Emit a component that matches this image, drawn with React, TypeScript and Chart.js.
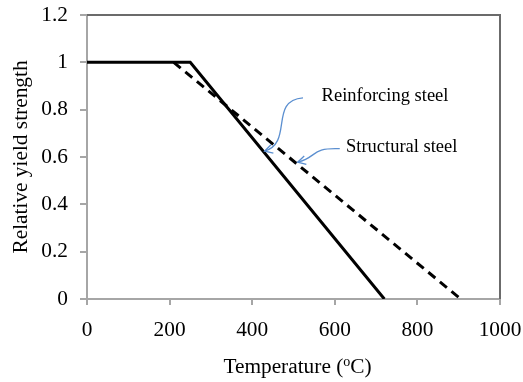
import React, { useEffect, useRef } from "react";
import { Chart, registerables } from "chart.js";

Chart.register(...registerables);

// ---- data ----
const reinforcingTemp = [0, 250, 720];
const reinforcingStrength = [1, 1, 0];
const structuralTemp = [210, 905];
const structuralStrength = [1, 0];

const xTickValues = [0, 200, 400, 600, 800, 1000];
const yTickValues = [0, 0.2, 0.4, 0.6, 0.8, 1, 1.2];

const xTitleMain = "Temperature (";
const xTitleSup = "o";
const xTitleEnd = "C)";
const yTitle = "Relative yield strength";

// annotation labels (data coords) and their arrow curves (data coords)
const labelTexts = ["Reinforcing steel", "Structural steel"];
const labelX = [568, 627];
const labelY = [0.859, 0.64];
// arrow: start, control1, control2, head
const arrowStartX = [523, 612];
const arrowStartY = [0.85, 0.635];
const arrowC1X = [440, 540];
const arrowC1Y = [0.84, 0.64];
const arrowC2X = [500, 560];
const arrowC2Y = [0.66, 0.6];
const arrowHeadX = [430, 510];
const arrowHeadY = [0.625, 0.578];

const FONT = "'Liberation Serif', 'Times New Roman', serif";
const BIG = 21.33;

const overlayPlugin = {
  id: "overlay",
  afterDraw(chart: any) {
    const { ctx, chartArea, scales } = chart;
    const xs = scales.x;
    const ys = scales.y;
    ctx.save();
    // top and right border
    ctx.strokeStyle = "#6b6b6b";
    ctx.lineWidth = 2;
    ctx.beginPath();
    ctx.moveTo(chartArea.left, chartArea.top);
    ctx.lineTo(chartArea.right, chartArea.top);
    ctx.lineTo(chartArea.right, chartArea.bottom);
    ctx.stroke();

    // annotation texts
    ctx.fillStyle = "#000";
    ctx.font = `18.5px ${FONT}`;
    ctx.textBaseline = "middle";
    ctx.textAlign = "left";
    for (let i = 0; i < labelTexts.length; i++) {
      ctx.fillText(labelTexts[i], xs.getPixelForValue(labelX[i]), ys.getPixelForValue(labelY[i]));
    }

    // arrows
    ctx.strokeStyle = "#5b8fd0";
    ctx.lineWidth = 1.3;
    for (let i = 0; i < arrowStartX.length; i++) {
      const sx = xs.getPixelForValue(arrowStartX[i]);
      const sy = ys.getPixelForValue(arrowStartY[i]);
      const c1x = xs.getPixelForValue(arrowC1X[i]);
      const c1y = ys.getPixelForValue(arrowC1Y[i]);
      const c2x = xs.getPixelForValue(arrowC2X[i]);
      const c2y = ys.getPixelForValue(arrowC2Y[i]);
      const hx = xs.getPixelForValue(arrowHeadX[i]);
      const hy = ys.getPixelForValue(arrowHeadY[i]);
      ctx.beginPath();
      ctx.moveTo(sx, sy);
      ctx.bezierCurveTo(c1x, c1y, c2x, c2y, hx, hy);
      ctx.stroke();
      const ang = Math.atan2(hy - c2y, hx - c2x);
      const len = 9;
      const spread = 0.5;
      ctx.beginPath();
      ctx.moveTo(hx - len * Math.cos(ang - spread), hy - len * Math.sin(ang - spread));
      ctx.lineTo(hx, hy);
      ctx.lineTo(hx - len * Math.cos(ang + spread), hy - len * Math.sin(ang + spread));
      ctx.stroke();
    }

    // x title with superscript
    ctx.fillStyle = "#000";
    ctx.textBaseline = "alphabetic";
    ctx.textAlign = "left";
    const mainFont = `${BIG}px ${FONT}`;
    const supFont = `14px ${FONT}`;
    ctx.font = mainFont;
    const w1 = ctx.measureText(xTitleMain).width;
    const w3 = ctx.measureText(xTitleEnd).width;
    ctx.font = supFont;
    const w2 = ctx.measureText(xTitleSup).width;
    const total = w1 + w2 + w3;
    const cx = (chartArea.left + chartArea.right) / 2 + 4;
    const baseY = 373;
    const x0 = cx - total / 2;
    ctx.font = mainFont;
    ctx.fillText(xTitleMain, x0, baseY);
    ctx.font = supFont;
    ctx.fillText(xTitleSup, x0 + w1, baseY - 7);
    ctx.font = mainFont;
    ctx.fillText(xTitleEnd, x0 + w1 + w2, baseY);
    ctx.restore();
  },
};

export default function App() {
  const ref = useRef<HTMLCanvasElement | null>(null);
  useEffect(() => {
    if (!ref.current) return;
    const chart = new Chart(ref.current, {
      type: "scatter",
      data: {
        datasets: [
          {
            label: "Reinforcing steel",
            data: reinforcingTemp.map((t, i) => ({ x: t, y: reinforcingStrength[i] })),
            showLine: true,
            borderColor: "#000",
            backgroundColor: "#000",
            borderWidth: 3,
            pointRadius: 0,
            tension: 0,
          },
          {
            label: "Structural steel",
            data: structuralTemp.map((t, i) => ({ x: t, y: structuralStrength[i] })),
            showLine: true,
            borderColor: "#000",
            backgroundColor: "#000",
            borderWidth: 3,
            borderDash: [9, 6],
            pointRadius: 0,
            tension: 0,
          },
        ],
      },
      options: {
        animation: false,
        responsive: false,
        maintainAspectRatio: false,
        layout: { padding: { left: 0, right: 23, top: 15, bottom: 0 } },
        plugins: {
          legend: { display: false },
          tooltip: { enabled: false },
        },
        scales: {
          x: {
            type: "linear",
            min: 0,
            max: 1000,
            afterBuildTicks: (s: any) => {
              s.ticks = xTickValues.map((v) => ({ value: v }));
            },
            afterFit: (s: any) => {
              s.height = 83;
              s.paddingLeft = 0;
              s.paddingRight = 0;
            },
            border: { display: true, color: "#a6a6a6", width: 2 },
            grid: {
              display: true,
              drawOnChartArea: false,
              drawTicks: true,
              tickLength: 6,
              color: "#a6a6a6",
              lineWidth: 2,
            },
            ticks: {
              color: "#000",
              font: { family: FONT, size: BIG },
              padding: 13,
              maxRotation: 0,
              callback: (v: any) => String(v),
            },
            title: { display: false },
          },
          y: {
            type: "linear",
            min: 0,
            max: 1.2,
            afterBuildTicks: (s: any) => {
              s.ticks = yTickValues.map((v) => ({ value: v }));
            },
            afterFit: (s: any) => {
              s.width = 87;
              s.paddingTop = 0;
              s.paddingBottom = 0;
            },
            border: { display: true, color: "#a6a6a6", width: 2 },
            grid: {
              display: true,
              drawOnChartArea: false,
              drawTicks: true,
              tickLength: 7,
              color: "#a6a6a6",
              lineWidth: 2,
            },
            ticks: {
              color: "#000",
              font: { family: FONT, size: BIG },
              padding: 12,
              callback: (v: any) => String(Math.round(Number(v) * 10) / 10),
            },
            title: {
              display: true,
              text: yTitle,
              color: "#000",
              font: { family: FONT, size: BIG },
              padding: { top: 9, bottom: 0 },
            },
          },
        },
      },
      plugins: [overlayPlugin],
    });
    return () => chart.destroy();
  }, []);
  return (
    <div style={{ position: "fixed", left: 0, top: 0, width: 523, height: 382, background: "#fff" }}>
      <canvas ref={ref} width={523} height={382} style={{ width: 523, height: 382, display: "block" }} />
    </div>
  );
}
